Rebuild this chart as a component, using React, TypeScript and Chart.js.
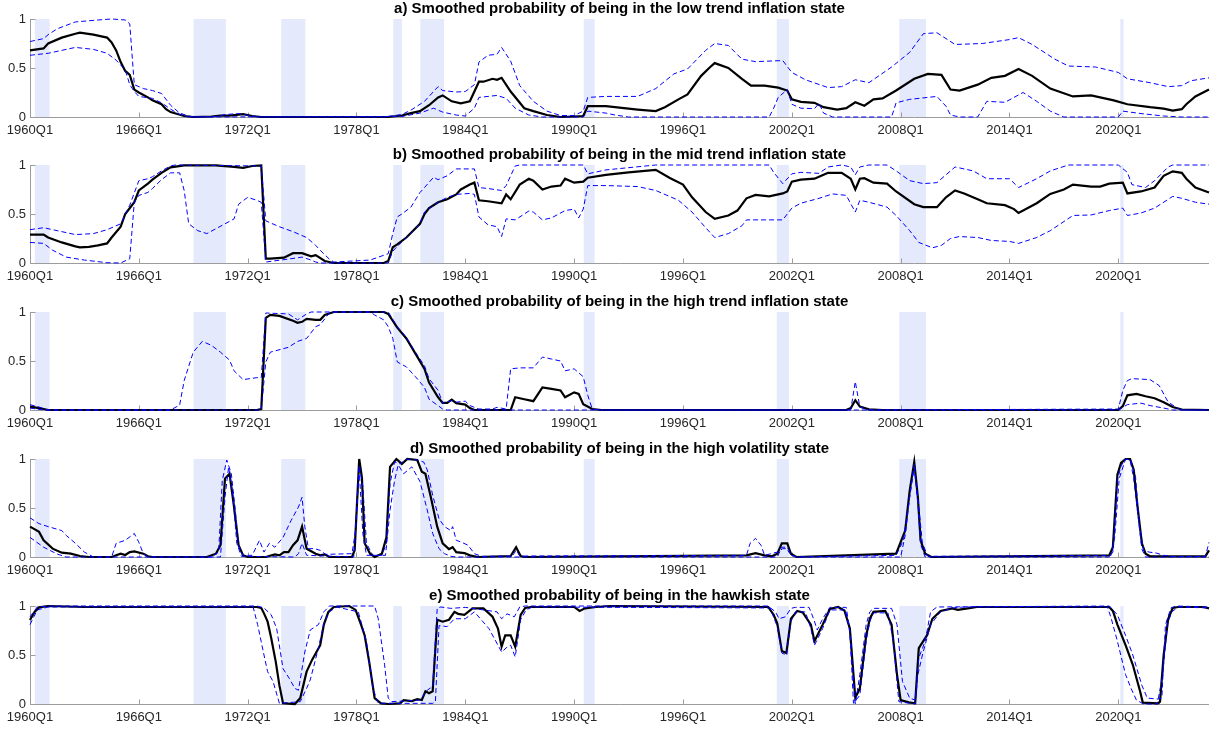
import React, { useEffect, useRef } from "react";
import { Chart, registerables } from "chart.js";

Chart.register(...registerables);

type Pt = [number, number];

// ---------- axis / annotation data ----------
const TICK_YEARS = [1960, 1966, 1972, 1978, 1984, 1990, 1996, 2002, 2008, 2014, 2020];
const X_MIN = 1960;
const X_MAX = 2025;
const Y_TICKS = [0, 0.5, 1];

// shaded recession periods [start, end] (decimal years)
const RECESSIONS: Pt[] = [
  [1960.27, 1961.08],
  [1969.02, 1970.8],
  [1973.85, 1975.18],
  [1980.03, 1980.5],
  [1981.52, 1982.83],
  [1990.53, 1991.13],
  [2001.17, 2001.84],
  [2007.93, 2009.4],
  [2020.11, 2020.29],
];

const TITLES = [
  "a) Smoothed probability of being in the low trend inflation state",
  "b) Smoothed probability of being in the mid trend inflation state",
  "c) Smoothed probability of being in the high trend inflation state",
  "d) Smoothed probability of being in the high volatility state",
  "e) Smoothed probability of being in the hawkish state",
];

// ---------- a) low trend inflation ----------
const aMean: Pt[] = [
  [1960.0, 0.68], [1960.75, 0.7], [1961.0, 0.75], [1961.75, 0.81], [1962.5, 0.85], [1962.75, 0.86],
  [1963.5, 0.84], [1964.0, 0.82], [1964.25, 0.81], [1964.5, 0.76], [1964.75, 0.68], [1965.0, 0.56],
  [1965.25, 0.47], [1965.5, 0.43], [1965.75, 0.28], [1966.0, 0.25], [1966.5, 0.2], [1966.75, 0.17],
  [1967.25, 0.13], [1967.5, 0.08], [1967.75, 0.05], [1968.5, 0.01], [1969.0, 0.0], [1970.0, 0.005],
  [1970.5, 0.015], [1971.0, 0.015], [1971.75, 0.03], [1972.25, 0.01], [1972.75, 0.0], [1979.75, 0.0],
  [1980.5, 0.015], [1981.0, 0.04], [1981.5, 0.06], [1982.0, 0.12], [1982.5, 0.2], [1982.75, 0.22],
  [1983.25, 0.16], [1983.75, 0.14], [1984.25, 0.16], [1984.75, 0.36], [1985.0, 0.36], [1985.5, 0.39],
  [1985.75, 0.38], [1986.0, 0.4], [1986.5, 0.26], [1987.25, 0.09], [1987.75, 0.06], [1988.5, 0.02],
  [1989.25, 0.0], [1990.0, 0.005], [1990.5, 0.01], [1990.75, 0.11], [1991.75, 0.11], [1993.5, 0.076],
  [1994.5, 0.06], [1995.0, 0.1], [1995.75, 0.18], [1996.25, 0.23], [1997.0, 0.42], [1997.5, 0.51],
  [1997.75, 0.55], [1998.5, 0.5], [1999.25, 0.39], [1999.75, 0.32], [2000.5, 0.32], [2001.25, 0.3],
  [2001.75, 0.27], [2002.0, 0.18], [2002.5, 0.155], [2003.25, 0.145], [2003.75, 0.1], [2004.5, 0.076],
  [2005.0, 0.09], [2005.5, 0.15], [2006.0, 0.115], [2006.5, 0.18], [2007.0, 0.19], [2007.75, 0.27],
  [2008.75, 0.39], [2009.5, 0.44], [2010.25, 0.43], [2010.75, 0.28], [2011.25, 0.27], [2012.25, 0.33],
  [2013.0, 0.4], [2013.75, 0.42], [2014.5, 0.49], [2015.25, 0.42], [2016.25, 0.29], [2017.5, 0.21],
  [2018.5, 0.22], [2019.75, 0.17], [2020.5, 0.13], [2021.75, 0.1], [2022.5, 0.086], [2023.0, 0.065],
  [2023.5, 0.08], [2023.75, 0.13], [2024.25, 0.21], [2025.0, 0.28],
];
const aUpper: Pt[] = [
  [1960.0, 0.77], [1960.75, 0.8], [1961.0, 0.84], [1961.5, 0.9], [1962.5, 0.97], [1963.75, 0.99],
  [1964.5, 1.0], [1965.25, 0.99], [1965.5, 0.95], [1965.75, 0.33], [1966.25, 0.29], [1966.75, 0.27],
  [1967.25, 0.24], [1967.75, 0.12], [1968.25, 0.04], [1968.75, 0.01], [1969.0, 0.0], [1970.25, 0.005],
  [1970.75, 0.025], [1971.5, 0.035], [1972.25, 0.01], [1972.75, 0.0], [1979.5, 0.0], [1980.5, 0.025],
  [1981.0, 0.07], [1981.75, 0.16], [1982.5, 0.31], [1982.75, 0.27], [1983.5, 0.255], [1984.0, 0.26],
  [1984.5, 0.33], [1984.75, 0.56], [1985.25, 0.63], [1985.75, 0.64], [1986.0, 0.71], [1986.5, 0.57],
  [1987.0, 0.32], [1987.75, 0.16], [1988.5, 0.06], [1989.25, 0.015], [1990.0, 0.015], [1990.5, 0.06],
  [1990.75, 0.2], [1991.75, 0.21], [1993.5, 0.21], [1994.5, 0.29], [1995.5, 0.44], [1996.25, 0.49],
  [1997.25, 0.68], [1997.75, 0.75], [1998.5, 0.73], [1999.25, 0.59], [2000.0, 0.565], [2001.5, 0.576],
  [2002.0, 0.455], [2002.75, 0.38], [2004.0, 0.3], [2004.75, 0.31], [2005.5, 0.38], [2006.25, 0.35],
  [2007.5, 0.51], [2008.5, 0.66], [2009.25, 0.85], [2010.0, 0.86], [2010.5, 0.8], [2011.0, 0.74],
  [2012.5, 0.75], [2014.0, 0.79], [2014.5, 0.81], [2015.25, 0.74], [2016.5, 0.59], [2017.25, 0.52],
  [2018.75, 0.51], [2020.0, 0.455], [2020.5, 0.39], [2021.75, 0.35], [2022.75, 0.31], [2023.5, 0.32],
  [2024.0, 0.37], [2025.0, 0.4],
];
const aLower: Pt[] = [
  [1960.0, 0.63], [1961.0, 0.65], [1962.5, 0.71], [1963.5, 0.69], [1964.25, 0.65], [1964.75, 0.58],
  [1965.25, 0.48], [1965.5, 0.33], [1965.75, 0.26], [1966.0, 0.21], [1966.75, 0.19], [1967.25, 0.145],
  [1967.75, 0.08], [1968.25, 0.025], [1968.75, 0.0], [1980.5, 0.005], [1981.5, 0.04], [1982.25, 0.09],
  [1982.75, 0.05], [1983.5, 0.02], [1984.0, 0.01], [1984.5, 0.09], [1984.75, 0.2], [1985.75, 0.22],
  [1986.25, 0.19], [1986.75, 0.09], [1987.5, 0.02], [1988.25, 0.0], [1990.5, 0.0], [1990.75, 0.06],
  [1991.75, 0.04], [1992.25, 0.02], [1993.0, 0.0], [2000.75, 0.0], [2001.0, 0.09], [2001.25, 0.2],
  [2001.75, 0.28], [2002.0, 0.13], [2002.5, 0.09], [2003.25, 0.085], [2003.5, 0.14], [2003.75, 0.04],
  [2004.25, 0.0], [2007.5, 0.0], [2007.75, 0.145], [2008.5, 0.18], [2010.0, 0.21], [2010.5, 0.11],
  [2010.75, 0.02], [2011.25, 0.0], [2012.25, 0.0], [2012.75, 0.16], [2013.75, 0.15], [2014.75, 0.25],
  [2015.5, 0.16], [2016.25, 0.06], [2017.0, 0.0], [2020.0, 0.0], [2020.25, 0.06], [2021.25, 0.035],
  [2022.5, 0.01], [2023.5, 0.0], [2025.0, 0.0],
];

// ---------- b) mid trend inflation ----------
const bMean: Pt[] = [
  [1960.0, 0.29], [1960.75, 0.29], [1961.0, 0.26], [1961.75, 0.21], [1962.5, 0.17], [1962.75, 0.16],
  [1963.25, 0.165], [1963.75, 0.18], [1964.25, 0.2], [1964.5, 0.26], [1965.0, 0.37], [1965.25, 0.5],
  [1965.75, 0.62], [1966.0, 0.74], [1966.5, 0.81], [1966.75, 0.85], [1967.25, 0.92], [1967.75, 0.976],
  [1968.5, 0.996], [1970.25, 0.996], [1971.25, 0.98], [1971.75, 0.97], [1972.25, 0.99], [1972.75, 0.995],
  [1973.0, 0.044], [1973.25, 0.044], [1974.0, 0.054], [1974.5, 0.1], [1975.0, 0.1], [1975.5, 0.068],
  [1975.75, 0.08], [1976.25, 0.02], [1976.75, 0.0], [1979.5, 0.0], [1979.75, 0.02], [1980.0, 0.16],
  [1980.25, 0.19], [1980.75, 0.26], [1981.5, 0.4], [1981.75, 0.5], [1982.0, 0.56], [1982.5, 0.62],
  [1983.0, 0.65], [1983.5, 0.7], [1983.75, 0.75], [1984.25, 0.8], [1984.5, 0.82], [1984.75, 0.64],
  [1985.25, 0.63], [1986.0, 0.61], [1986.25, 0.7], [1986.5, 0.65], [1987.0, 0.8], [1987.5, 0.86],
  [1987.75, 0.84], [1988.25, 0.75], [1988.75, 0.78], [1989.25, 0.79], [1989.5, 0.86], [1990.0, 0.82],
  [1990.5, 0.83], [1990.75, 0.87], [1991.75, 0.9], [1993.0, 0.925], [1994.5, 0.95], [1995.25, 0.87],
  [1996.0, 0.8], [1996.5, 0.67], [1997.25, 0.52], [1997.75, 0.45], [1998.5, 0.485], [1999.0, 0.535],
  [1999.5, 0.66], [2000.0, 0.695], [2000.75, 0.68], [2001.5, 0.71], [2001.75, 0.73], [2002.0, 0.83],
  [2002.5, 0.85], [2003.25, 0.86], [2003.75, 0.9], [2004.0, 0.92], [2004.75, 0.92], [2005.25, 0.86],
  [2005.5, 0.75], [2005.75, 0.86], [2006.0, 0.865], [2006.5, 0.82], [2007.25, 0.81], [2007.75, 0.73],
  [2008.75, 0.6], [2009.25, 0.57], [2010.0, 0.57], [2010.5, 0.67], [2011.0, 0.74], [2011.5, 0.71],
  [2012.25, 0.65], [2012.75, 0.61], [2013.75, 0.59], [2014.25, 0.55], [2014.5, 0.51], [2015.5, 0.61],
  [2016.25, 0.705], [2017.0, 0.75], [2017.5, 0.8], [2018.5, 0.78], [2019.0, 0.78], [2019.5, 0.81],
  [2020.25, 0.82], [2020.5, 0.71], [2021.25, 0.73], [2022.0, 0.77], [2022.5, 0.89], [2023.0, 0.935],
  [2023.5, 0.92], [2023.75, 0.86], [2024.25, 0.77], [2025.0, 0.72],
];
const bUpper: Pt[] = [
  [1960.0, 0.34], [1960.75, 0.36], [1961.5, 0.33], [1962.5, 0.29], [1963.5, 0.3], [1964.25, 0.34],
  [1965.0, 0.4], [1965.5, 0.59], [1966.0, 0.84], [1966.5, 0.86], [1966.75, 0.88], [1967.25, 0.94],
  [1967.75, 0.99], [1968.0, 1.0], [1972.75, 0.99], [1973.0, 0.43], [1973.75, 0.37], [1974.5, 0.32],
  [1975.25, 0.26], [1975.75, 0.18], [1976.0, 0.13], [1976.5, 0.04], [1976.75, 0.01], [1978.75, 0.03],
  [1979.75, 0.095], [1980.0, 0.3], [1980.25, 0.47], [1980.5, 0.5], [1981.0, 0.57], [1981.5, 0.72],
  [1981.75, 0.77], [1982.25, 0.875], [1982.5, 0.85], [1983.0, 0.89], [1983.5, 0.96], [1984.5, 0.96],
  [1984.75, 0.77], [1985.25, 0.76], [1986.0, 0.74], [1986.25, 0.79], [1986.75, 0.99], [1987.0, 1.0],
  [1990.5, 1.0], [1990.75, 0.91], [1991.75, 0.95], [1994.5, 1.0], [2000.75, 1.0], [2001.0, 0.925],
  [2001.5, 0.81], [2002.0, 0.91], [2002.5, 0.925], [2003.5, 0.915], [2004.0, 0.98], [2004.75, 1.0],
  [2005.25, 0.98], [2005.5, 0.9], [2005.75, 0.98], [2006.25, 1.0], [2007.25, 1.0], [2007.75, 0.94],
  [2008.5, 0.84], [2009.25, 0.81], [2010.0, 0.82], [2010.5, 0.9], [2011.0, 0.98], [2012.0, 0.94],
  [2012.75, 0.86], [2014.0, 0.86], [2014.5, 0.77], [2015.5, 0.86], [2016.25, 0.94], [2017.25, 1.0],
  [2020.0, 1.0], [2020.5, 0.925], [2020.75, 0.8], [2021.5, 0.77], [2022.0, 0.84], [2022.75, 0.98],
  [2023.0, 1.0], [2025.0, 1.0],
];
const bLower: Pt[] = [
  [1960.0, 0.21], [1960.75, 0.2], [1961.25, 0.13], [1962.0, 0.06], [1963.0, 0.03], [1964.25, 0.003],
  [1965.0, 0.0], [1965.5, 0.044], [1965.75, 0.62], [1966.0, 0.69], [1966.5, 0.72], [1966.75, 0.76],
  [1967.25, 0.85], [1967.75, 0.92], [1968.25, 0.92], [1968.5, 0.74], [1968.75, 0.4], [1969.25, 0.33],
  [1969.75, 0.3], [1970.25, 0.35], [1971.25, 0.45], [1971.5, 0.6], [1972.0, 0.67], [1972.5, 0.64],
  [1972.75, 0.62], [1973.0, 0.01], [1974.25, 0.04], [1975.0, 0.06], [1975.5, 0.03], [1975.75, 0.01],
  [1976.0, 0.0], [1979.75, 0.0], [1980.0, 0.12], [1980.25, 0.17], [1980.75, 0.26], [1981.5, 0.4],
  [1981.75, 0.52], [1982.5, 0.62], [1983.0, 0.67], [1983.5, 0.7], [1984.25, 0.71], [1984.5, 0.7],
  [1984.75, 0.47], [1985.25, 0.39], [1985.75, 0.37], [1986.0, 0.27], [1986.25, 0.45], [1986.75, 0.44],
  [1987.5, 0.53], [1987.75, 0.52], [1988.25, 0.44], [1988.75, 0.46], [1989.5, 0.535], [1990.0, 0.55],
  [1990.25, 0.46], [1990.5, 0.55], [1990.75, 0.79], [1991.75, 0.79], [1993.5, 0.78], [1994.5, 0.74],
  [1995.75, 0.64], [1996.5, 0.52], [1997.25, 0.36], [1997.75, 0.26], [1998.5, 0.3], [1999.25, 0.38],
  [1999.5, 0.44], [2000.5, 0.44], [2001.5, 0.44], [2002.0, 0.56], [2002.5, 0.61], [2003.5, 0.66],
  [2004.25, 0.705], [2005.0, 0.69], [2005.5, 0.52], [2005.75, 0.64], [2006.25, 0.62], [2007.25, 0.57],
  [2007.75, 0.485], [2008.5, 0.33], [2009.0, 0.21], [2009.75, 0.155], [2010.25, 0.18], [2010.75, 0.25],
  [2011.25, 0.27], [2012.25, 0.26], [2013.0, 0.23], [2014.0, 0.22], [2014.5, 0.2], [2015.5, 0.26],
  [2016.25, 0.33], [2017.5, 0.485], [2018.5, 0.49], [2019.5, 0.535], [2020.25, 0.56], [2020.5, 0.485],
  [2021.25, 0.51], [2022.0, 0.56], [2023.0, 0.68], [2023.5, 0.66], [2024.25, 0.62], [2025.0, 0.6],
];

// ---------- c) high trend inflation ----------
const cMean: Pt[] = [
  [1960.0, 0.034], [1960.5, 0.02], [1961.0, 0.0], [1972.5, 0.0], [1972.75, 0.01], [1973.0, 0.94],
  [1973.25, 0.97], [1973.75, 0.96], [1974.5, 0.91], [1974.75, 0.89], [1975.0, 0.9], [1975.25, 0.93],
  [1975.75, 0.92], [1976.0, 0.92], [1976.25, 0.97], [1976.75, 1.0], [1979.5, 1.0], [1979.75, 0.98],
  [1980.25, 0.84], [1980.75, 0.73], [1981.25, 0.575], [1981.75, 0.42], [1982.0, 0.28], [1982.5, 0.13],
  [1982.75, 0.072], [1983.0, 0.072], [1983.25, 0.106], [1983.5, 0.07], [1984.0, 0.055], [1984.25, 0.02],
  [1984.5, 0.0], [1986.5, 0.0], [1986.75, 0.13], [1987.25, 0.11], [1987.75, 0.09], [1988.25, 0.23],
  [1988.75, 0.215], [1989.25, 0.2], [1989.5, 0.13], [1990.0, 0.18], [1990.25, 0.165], [1990.5, 0.06],
  [1991.0, 0.01], [1991.5, 0.0], [2005.0, 0.0], [2005.25, 0.02], [2005.5, 0.1], [2005.75, 0.035],
  [2006.25, 0.007], [2007.0, 0.0], [2020.0, 0.0], [2020.25, 0.04], [2020.5, 0.15], [2021.0, 0.165],
  [2021.5, 0.14], [2022.0, 0.12], [2022.5, 0.08], [2023.0, 0.03], [2023.5, 0.005], [2025.0, 0.0],
];
const cUpper: Pt[] = [
  [1960.0, 0.055], [1960.5, 0.03], [1961.0, 0.0], [1967.75, 0.0], [1968.25, 0.05], [1968.5, 0.3],
  [1969.0, 0.59], [1969.5, 0.7], [1970.0, 0.66], [1970.5, 0.59], [1971.0, 0.51], [1971.25, 0.4],
  [1971.75, 0.31], [1972.5, 0.33], [1972.75, 0.33], [1973.0, 0.99], [1974.25, 0.98], [1974.75, 0.92],
  [1975.25, 0.98], [1975.5, 1.0], [1979.75, 1.0], [1980.25, 0.85], [1980.75, 0.74], [1981.25, 0.59],
  [1981.75, 0.45], [1982.0, 0.32], [1982.5, 0.2], [1982.75, 0.07], [1983.25, 0.096], [1983.5, 0.08],
  [1984.0, 0.09], [1984.25, 0.045], [1984.75, 0.01], [1985.5, 0.01], [1985.75, 0.027], [1986.25, 0.01],
  [1986.5, 0.42], [1987.0, 0.43], [1987.75, 0.43], [1988.25, 0.54], [1988.75, 0.52], [1989.25, 0.5],
  [1989.5, 0.4], [1990.0, 0.42], [1990.5, 0.34], [1990.75, 0.15], [1991.0, 0.01], [1991.5, 0.0],
  [2005.25, 0.0], [2005.5, 0.29], [2005.75, 0.03], [2006.25, 0.0], [2020.0, 0.01], [2020.25, 0.2],
  [2020.5, 0.3], [2020.75, 0.32], [2021.75, 0.31], [2022.25, 0.25], [2022.75, 0.08], [2023.25, 0.02],
  [2023.5, 0.0], [2025.0, 0.0],
];
const cLower: Pt[] = [
  [1960.0, 0.02], [1960.75, 0.0], [1972.75, 0.0], [1973.0, 0.49], [1973.25, 0.59], [1974.25, 0.64],
  [1974.75, 0.7], [1975.25, 0.73], [1975.75, 0.85], [1976.0, 0.87], [1976.5, 0.99], [1976.75, 1.0],
  [1978.75, 1.0], [1979.0, 0.97], [1979.5, 0.92], [1979.75, 0.85], [1980.0, 0.73], [1980.25, 0.49],
  [1980.75, 0.44], [1981.25, 0.34], [1981.75, 0.23], [1982.0, 0.11], [1982.5, 0.045], [1982.75, 0.01],
  [1983.0, 0.0], [2020.0, 0.0], [2020.5, 0.055], [2021.25, 0.07], [2021.75, 0.045], [2022.5, 0.02],
  [2023.0, 0.0], [2025.0, 0.0],
];

// ---------- d) high volatility ----------
const dMean: Pt[] = [
  [1960.0, 0.31], [1960.5, 0.256], [1960.75, 0.17], [1961.25, 0.085], [1961.75, 0.044], [1962.25, 0.035],
  [1962.75, 0.01], [1963.25, 0.0], [1964.5, 0.0], [1964.75, 0.017], [1965.0, 0.034], [1965.25, 0.02],
  [1965.5, 0.05], [1965.75, 0.058], [1966.25, 0.034], [1966.5, 0.007], [1966.75, 0.0], [1969.75, 0.0],
  [1970.25, 0.034], [1970.5, 0.12], [1970.75, 0.8], [1971.0, 0.85], [1971.25, 0.51], [1971.5, 0.12],
  [1971.75, 0.017], [1972.0, 0.0], [1973.0, 0.0], [1973.5, 0.027], [1973.75, 0.017], [1974.0, 0.05],
  [1974.25, 0.05], [1974.5, 0.12], [1974.75, 0.17], [1975.0, 0.31], [1975.25, 0.085], [1975.75, 0.034],
  [1976.0, 0.017], [1976.25, 0.027], [1976.5, 0.0], [1977.75, 0.0], [1977.9, 0.07], [1978.15, 1.0],
  [1978.3, 0.81], [1978.45, 0.14], [1978.75, 0.034], [1979.0, 0.0], [1979.4, 0.034], [1979.65, 0.2],
  [1979.85, 0.92], [1980.2, 1.0], [1980.5, 0.95], [1980.8, 1.0], [1981.35, 0.99], [1981.6, 0.87],
  [1981.8, 0.85], [1982.1, 0.61], [1982.45, 0.31], [1982.75, 0.14], [1983.1, 0.08], [1983.3, 0.1],
  [1983.5, 0.05], [1983.95, 0.04], [1984.25, 0.017], [1984.7, 0.0], [1986.5, 0.01], [1986.8, 0.1],
  [1987.05, 0.01], [1987.25, 0.0], [1999.5, 0.017], [2000.0, 0.04], [2000.5, 0.017], [2000.9, 0.007],
  [2001.2, 0.034], [2001.45, 0.14], [2001.75, 0.14], [2001.95, 0.034], [2002.25, 0.0], [2007.75, 0.034],
  [2008.25, 0.27], [2008.5, 0.68], [2008.75, 0.97], [2008.95, 0.61], [2009.1, 0.17], [2009.35, 0.034],
  [2009.7, 0.0], [2019.5, 0.017], [2019.7, 0.1], [2019.95, 0.84], [2020.15, 0.96], [2020.4, 1.0],
  [2020.65, 1.0], [2020.85, 0.89], [2021.05, 0.53], [2021.3, 0.14], [2021.5, 0.034], [2021.75, 0.007],
  [2024.8, 0.007], [2025.0, 0.068],
];
const dUpper: Pt[] = [
  [1960.0, 0.4], [1960.5, 0.34], [1961.0, 0.31], [1961.75, 0.27], [1962.0, 0.22], [1962.5, 0.14],
  [1963.0, 0.05], [1963.5, 0.0], [1964.5, 0.0], [1964.75, 0.14], [1965.25, 0.17], [1965.75, 0.24],
  [1966.0, 0.15], [1966.25, 0.034], [1966.5, 0.0], [1970.0, 0.0], [1970.4, 0.05], [1970.6, 0.78],
  [1970.85, 0.99], [1971.1, 0.85], [1971.3, 0.51], [1971.5, 0.12], [1971.75, 0.017], [1972.25, 0.017],
  [1972.65, 0.17], [1972.9, 0.05], [1973.2, 0.14], [1973.5, 0.1], [1973.95, 0.2], [1974.4, 0.375],
  [1974.8, 0.51], [1975.0, 0.61], [1975.15, 0.31], [1975.35, 0.085], [1975.7, 0.085], [1976.0, 0.068],
  [1976.3, 0.027], [1977.75, 0.034], [1977.95, 0.27], [1978.15, 0.94], [1978.35, 0.72], [1978.55, 0.14],
  [1978.9, 0.017], [1979.4, 0.017], [1979.65, 0.14], [1979.85, 0.75], [1980.1, 0.97], [1980.4, 0.95],
  [1980.8, 1.0], [1981.35, 0.99], [1981.7, 0.97], [1981.9, 0.89], [1982.2, 0.63], [1982.55, 0.39],
  [1982.85, 0.31], [1983.2, 0.27], [1983.3, 0.31], [1983.5, 0.17], [1983.8, 0.15], [1984.15, 0.12],
  [1984.5, 0.034], [1984.9, 0.007], [1986.6, 0.01], [1986.8, 0.07], [1987.0, 0.01], [1999.5, 0.017],
  [1999.7, 0.14], [2000.0, 0.19], [2000.3, 0.12], [2000.5, 0.017], [2001.2, 0.05], [2001.5, 0.085],
  [2001.7, 0.085], [2001.9, 0.034], [2002.25, 0.0], [2007.75, 0.017], [2008.15, 0.17], [2008.5, 0.61],
  [2008.75, 0.95], [2009.0, 0.51], [2009.2, 0.14], [2009.5, 0.007], [2019.6, 0.017], [2019.8, 0.2],
  [2020.05, 0.8], [2020.4, 1.0], [2020.7, 0.98], [2020.95, 0.82], [2021.15, 0.34], [2021.4, 0.068],
  [2021.7, 0.05], [2022.1, 0.04], [2022.5, 0.017], [2023.0, 0.005], [2024.8, 0.005], [2025.0, 0.15],
];
const dLower: Pt[] = [
  [1960.0, 0.2], [1960.75, 0.1], [1961.5, 0.03], [1962.0, 0.0], [1970.5, 0.0], [1970.75, 0.61],
  [1970.95, 0.92], [1971.2, 0.61], [1971.4, 0.14], [1971.65, 0.007], [1974.6, 0.0], [1974.8, 0.034],
  [1975.0, 0.14], [1975.25, 0.017], [1977.85, 0.0], [1978.15, 0.89], [1978.35, 0.24], [1978.55, 0.017],
  [1979.6, 0.017], [1979.85, 0.48], [1980.1, 0.78], [1980.3, 0.94], [1980.6, 0.85], [1981.05, 0.92],
  [1981.5, 0.77], [1981.9, 0.48], [1982.2, 0.24], [1982.55, 0.085], [1982.85, 0.034], [1983.2, 0.007],
  [1983.5, 0.0], [2001.2, 0.0], [2001.45, 0.1], [2001.75, 0.1], [2001.95, 0.02], [2002.25, 0.0],
  [2008.0, 0.0], [2008.25, 0.22], [2008.5, 0.62], [2008.75, 0.92], [2008.95, 0.55], [2009.1, 0.13],
  [2009.35, 0.0], [2019.5, 0.0], [2019.7, 0.05], [2019.95, 0.78], [2020.15, 0.93], [2020.4, 1.0],
  [2020.65, 0.99], [2020.85, 0.8], [2021.1, 0.4], [2021.3, 0.08], [2021.5, 0.0], [2025.0, 0.0],
];

// ---------- e) hawkish ----------
const eMean: Pt[] = [
  [1960.0, 0.857], [1960.25, 0.94], [1960.5, 0.986], [1961.0, 1.0], [1963.0, 0.99], [1965.0, 0.99],
  [1967.0, 0.99], [1970.0, 0.99], [1972.5, 0.99], [1972.75, 0.98], [1972.9, 0.925], [1973.1, 0.84],
  [1973.3, 0.67], [1973.55, 0.43], [1973.75, 0.19], [1973.95, 0.007], [1974.6, 0.0], [1974.9, 0.06],
  [1975.25, 0.33], [1975.55, 0.45], [1976.0, 0.6], [1976.2, 0.81], [1976.45, 0.94], [1976.75, 0.99],
  [1977.6, 1.0], [1977.95, 0.96], [1978.25, 0.81], [1978.45, 0.7], [1978.7, 0.43], [1979.0, 0.06],
  [1979.35, 0.007], [1979.75, 0.0], [1980.4, 0.007], [1980.6, 0.04], [1981.05, 0.03], [1981.35, 0.05],
  [1981.6, 0.04], [1981.8, 0.13], [1982.0, 0.11], [1982.2, 0.13], [1982.45, 0.86], [1982.75, 0.84],
  [1983.1, 0.86], [1983.4, 0.94], [1983.6, 0.92], [1983.95, 0.91], [1984.4, 0.976], [1985.0, 0.976],
  [1985.5, 0.89], [1985.8, 0.77], [1986.0, 0.585], [1986.2, 0.7], [1986.5, 0.7], [1986.75, 0.585],
  [1987.05, 0.91], [1987.3, 0.98], [1987.6, 0.99], [1990.0, 0.99], [1990.3, 0.95], [1990.6, 0.976],
  [1991.2, 0.99], [1992.0, 1.0], [2000.7, 0.99], [2001.0, 0.91], [2001.2, 0.82], [2001.45, 0.54],
  [2001.7, 0.52], [2001.95, 0.87], [2002.3, 0.95], [2002.6, 0.935], [2003.05, 0.81], [2003.25, 0.64],
  [2003.7, 0.81], [2004.1, 0.97], [2004.55, 0.99], [2004.9, 0.955], [2005.2, 0.77], [2005.5, 0.065],
  [2005.75, 0.16], [2006.1, 0.7], [2006.3, 0.87], [2006.5, 0.94], [2007.15, 0.95], [2007.5, 0.81],
  [2007.8, 0.3], [2008.0, 0.04], [2008.45, 0.017], [2008.8, 0.007], [2009.0, 0.57], [2009.45, 0.7],
  [2009.75, 0.87], [2010.2, 0.95], [2010.85, 0.976], [2011.15, 0.96], [2011.7, 0.976], [2012.2, 0.99],
  [2019.5, 0.99], [2019.7, 0.95], [2019.95, 0.81], [2020.4, 0.6], [2020.8, 0.4], [2021.2, 0.13],
  [2021.35, 0.014], [2022.2, 0.007], [2022.3, 0.024], [2022.5, 0.5], [2022.75, 0.87], [2023.0, 0.98],
  [2023.3, 0.99], [2024.7, 0.99], [2025.0, 0.976],
];
const eUpper: Pt[] = [
  [1960.0, 0.89], [1960.4, 0.99], [1961.0, 1.0], [1972.5, 1.0], [1972.9, 0.98], [1973.3, 0.91],
  [1973.6, 0.77], [1973.95, 0.36], [1974.3, 0.26], [1974.6, 0.16], [1974.8, 0.14], [1975.15, 0.53],
  [1975.45, 0.755], [1975.9, 0.81], [1976.2, 0.94], [1976.5, 1.0], [1979.0, 1.0], [1979.2, 0.87],
  [1979.55, 0.4], [1979.75, 0.06], [1979.95, 0.024], [1981.5, 0.04], [1981.9, 0.14], [1982.2, 0.18],
  [1982.45, 0.976], [1982.65, 0.99], [1983.2, 0.976], [1984.0, 0.986], [1985.75, 0.94], [1986.0, 0.87],
  [1986.3, 0.92], [1986.7, 0.89], [1987.0, 0.99], [1987.3, 1.0], [2000.7, 1.0], [2001.1, 0.94],
  [2001.3, 0.87], [2001.65, 0.89], [2001.95, 0.976], [2002.2, 0.986], [2002.95, 0.986], [2003.2, 0.87],
  [2003.4, 0.755], [2003.7, 0.87], [2004.1, 0.986], [2005.0, 0.986], [2005.2, 0.74], [2005.5, 0.0],
  [2005.75, 0.3], [2006.1, 0.81], [2006.3, 0.94], [2006.5, 0.976], [2007.5, 0.976], [2007.8, 0.81],
  [2008.1, 0.23], [2008.5, 0.06], [2008.8, 0.04], [2009.0, 0.47], [2009.35, 0.64], [2009.65, 0.94],
  [2010.0, 0.99], [2019.5, 1.0], [2019.95, 0.91], [2020.4, 0.7], [2020.8, 0.5], [2021.3, 0.19],
  [2021.6, 0.06], [2022.2, 0.05], [2022.4, 0.06], [2022.6, 0.81], [2022.9, 0.98], [2023.2, 1.0],
  [2025.0, 0.99],
];
const eLower: Pt[] = [
  [1960.0, 0.81], [1960.4, 0.96], [1961.0, 0.99], [1972.3, 0.99], [1972.55, 0.81], [1972.9, 0.5],
  [1973.1, 0.33], [1973.4, 0.23], [1973.75, 0.007], [1974.9, 0.024], [1975.25, 0.16], [1975.45, 0.245],
  [1975.9, 0.57], [1976.2, 0.82], [1976.5, 0.94], [1976.9, 0.99], [1978.1, 0.94], [1978.55, 0.64],
  [1978.9, 0.16], [1979.2, 0.007], [1982.2, 0.007], [1982.35, 0.02], [1982.55, 0.8], [1983.0, 0.79],
  [1983.4, 0.87], [1984.0, 0.87], [1984.5, 0.94], [1985.3, 0.77], [1985.8, 0.6], [1986.0, 0.53],
  [1986.3, 0.58], [1986.5, 0.6], [1986.75, 0.48], [1987.05, 0.86], [1987.35, 0.96], [1987.7, 0.99],
  [2000.8, 0.98], [2001.2, 0.79], [2001.45, 0.52], [2001.7, 0.5], [2001.95, 0.84], [2002.2, 0.94],
  [2002.75, 0.94], [2003.05, 0.77], [2003.25, 0.6], [2003.7, 0.77], [2004.1, 0.96], [2004.95, 0.96],
  [2005.2, 0.74], [2005.4, 0.007], [2005.75, 0.09], [2006.1, 0.64], [2006.3, 0.84], [2006.5, 0.93],
  [2007.3, 0.93], [2007.6, 0.64], [2007.9, 0.024], [2008.8, 0.0], [2008.95, 0.3], [2009.2, 0.5],
  [2009.65, 0.81], [2010.2, 0.94], [2010.85, 0.98], [2011.5, 0.99], [2019.4, 0.99], [2019.6, 0.88],
  [2019.95, 0.64], [2020.4, 0.3], [2020.7, 0.16], [2021.0, 0.04], [2021.4, 0.0], [2022.15, 0.0],
  [2022.45, 0.3], [2022.7, 0.81], [2022.95, 0.94], [2023.3, 0.99], [2025.0, 0.98],
];

const SERIES: { mean: Pt[]; upper: Pt[]; lower: Pt[] }[] = [
  { mean: aMean, upper: aUpper, lower: aLower },
  { mean: bMean, upper: bUpper, lower: bLower },
  { mean: cMean, upper: cUpper, lower: cLower },
  { mean: dMean, upper: dUpper, lower: dLower },
  { mean: eMean, upper: eUpper, lower: eLower },
];

// ---------- layout ----------
const W = 1214;
const PLOT_TOPS = [19, 165, 312, 459, 606];
const PAD_TOP = 19;
const PLOT_H = 98;
const X_AXIS_H = 30;
const CANVAS_H = PAD_TOP + PLOT_H + X_AXIS_H;
const FONT = '"Liberation Sans", Arial, Helvetica, sans-serif';

const decoPlugin = {
  id: "panelDeco",
  beforeDatasetsDraw(chart: any) {
    const { ctx, chartArea: ca, scales } = chart;
    const xs = scales.x;
    const ys = scales.y;
    ctx.save();
    ctx.fillStyle = "rgb(228,233,252)";
    for (const [s, e] of RECESSIONS) {
      const x0 = xs.getPixelForValue(s);
      const x1 = xs.getPixelForValue(e);
      ctx.fillRect(x0, ca.top, x1 - x0, ca.bottom - ca.top);
    }
    ctx.strokeStyle = "#9c9c9c";
    ctx.lineWidth = 1;
    ctx.beginPath();
    const L = Math.round(ca.left) + 0.5;
    const B = Math.round(ca.bottom) + 0.5;
    ctx.moveTo(L, Math.round(ca.top));
    ctx.lineTo(L, B);
    ctx.lineTo(ca.right, B);
    for (const yr of TICK_YEARS) {
      const px = Math.round(xs.getPixelForValue(yr)) + 0.5;
      ctx.moveTo(px, B);
      ctx.lineTo(px, B - 5);
    }
    for (const v of Y_TICKS) {
      const py = Math.round(ys.getPixelForValue(v)) + 0.5;
      ctx.moveTo(L, py);
      ctx.lineTo(L + 5, py);
    }
    ctx.stroke();
    ctx.restore();
  },
  afterDraw(chart: any, _args: any, opts: any) {
    const { ctx, chartArea: ca } = chart;
    ctx.save();
    ctx.font = `bold 15px ${FONT}`;
    ctx.fillStyle = "#000";
    ctx.textAlign = "center";
    ctx.textBaseline = "middle";
    ctx.fillText(opts.title || "", (ca.left + ca.right) / 2, ca.top - 10.5);
    ctx.restore();
  },
};

function Panel({ idx }: { idx: number }) {
  const ref = useRef<HTMLCanvasElement | null>(null);
  useEffect(() => {
    if (!ref.current) return;
    const s = SERIES[idx];
    const toXY = (arr: Pt[]) => arr.map(([x, y]) => ({ x, y }));
    const dashed = (label: string, arr: Pt[]) =>
      ({
        label,
        data: toXY(arr),
        borderColor: "#0000ff",
        borderWidth: 1,
        borderDash: [5, 3],
        pointRadius: 0,
        tension: 0,
        order: 0,
        clip: false,
      } as any);
    const chart = new Chart(ref.current, {
      type: "line",
      data: {
        datasets: [
          dashed("upper", s.upper),
          dashed("lower", s.lower),
          {
            label: "mean",
            data: toXY(s.mean),
            borderColor: "#000000",
            borderWidth: 2.2,
            pointRadius: 0,
            tension: 0,
            order: 1,
            clip: false,
          } as any,
        ],
      },
      options: {
        animation: false,
        responsive: false,
        devicePixelRatio: 1,
        layout: { padding: { top: PAD_TOP, right: W - 1209, left: 0, bottom: 0 } },
        plugins: {
          legend: { display: false },
          tooltip: { enabled: false },
          title: { display: false },
          panelDeco: { title: TITLES[idx] },
        } as any,
        scales: {
          x: {
            type: "linear",
            min: X_MIN,
            max: X_MAX,
            grid: { display: false, drawTicks: false },
            border: { display: false },
            afterBuildTicks: (sc: any) => {
              sc.ticks = TICK_YEARS.map((v) => ({ value: v }));
            },
            afterFit: (sc: any) => {
              sc.height = X_AXIS_H;
            },
            ticks: {
              autoSkip: false,
              maxRotation: 0,
              padding: 6,
              color: "#262626",
              font: { family: FONT, size: 13 },
              callback: (v: any) => `${v}Q1`,
            },
          },
          y: {
            min: 0,
            max: 1,
            grid: { display: false, drawTicks: false },
            border: { display: false },
            afterBuildTicks: (sc: any) => {
              sc.ticks = Y_TICKS.map((v) => ({ value: v }));
            },
            afterFit: (sc: any) => {
              sc.width = 30;
            },
            ticks: {
              padding: 4,
              color: "#262626",
              font: { family: FONT, size: 13 },
              callback: (v: any) => String(v),
            },
          },
        },
      } as any,
      plugins: [decoPlugin as any],
    });
    return () => chart.destroy();
  }, [idx]);
  return (
    <canvas
      ref={ref}
      width={W}
      height={CANVAS_H}
      style={{
        position: "absolute",
        left: 0,
        top: PLOT_TOPS[idx] - PAD_TOP,
        width: W,
        height: CANVAS_H,
        display: "block",
      }}
    />
  );
}

export default function App() {
  return (
    <div
      style={{
        position: "fixed",
        left: 0,
        top: 0,
        width: W,
        height: 731,
        overflow: "hidden",
        background: "#fff",
      }}
    >
      {SERIES.map((_, i) => (
        <Panel key={i} idx={i} />
      ))}
    </div>
  );
}
